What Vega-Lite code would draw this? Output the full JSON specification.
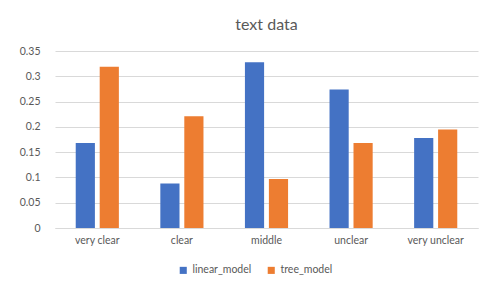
{
  "$schema": "https://vega.github.io/schema/vega-lite/v6.json",
  "width": 423,
  "height": 177,
  "autosize": "none",
  "padding": {"left": 55, "top": 51, "right": 14, "bottom": 63},
  "background": "white",
  "title": {"text": "text data", "fontSize": 16, "font": "Lato", "fontWeight": "normal", "color": "#595959", "offset": 13, "anchor": "middle"},
  "data": {"values": [
    {"category": "very clear", "model": "linear_model", "value": 0.168},
    {"category": "very clear", "model": "tree_model", "value": 0.319},
    {"category": "clear", "model": "linear_model", "value": 0.088},
    {"category": "clear", "model": "tree_model", "value": 0.221},
    {"category": "middle", "model": "linear_model", "value": 0.328},
    {"category": "middle", "model": "tree_model", "value": 0.097},
    {"category": "unclear", "model": "linear_model", "value": 0.274},
    {"category": "unclear", "model": "tree_model", "value": 0.168},
    {"category": "very unclear", "model": "linear_model", "value": 0.178},
    {"category": "very unclear", "model": "tree_model", "value": 0.195}
  ]},
  "mark": {"type": "bar"},
  "encoding": {
    "x": {"field": "category", "type": "nominal", "sort": null,
      "scale": {"paddingInner": 0.49, "paddingOuter": 0.245},
      "axis": {"title": null, "labelAngle": 0, "ticks": false, "domainColor": "#d9d9d9", "labelColor": "#595959", "labelFontSize": 10.5, "labelFont": "Lato", "labelPadding": 7}},
    "xOffset": {"field": "model", "type": "nominal", "scale": {"paddingInner": 0.2, "paddingOuter": 0}},
    "y": {"field": "value", "type": "quantitative",
      "scale": {"domain": [0, 0.35], "nice": false},
      "axis": {"title": null, "values": [0, 0.05, 0.1, 0.15, 0.2, 0.25, 0.3, 0.35], "format": "~g", "domain": false, "ticks": false, "gridColor": "#d9d9d9", "labelColor": "#595959", "labelFontSize": 10.5, "labelFont": "Lato", "labelPadding": 15}},
    "color": {"field": "model", "type": "nominal",
      "scale": {"domain": ["linear_model", "tree_model"], "range": ["#4472C4", "#ED7D31"]},
      "legend": {"title": null, "orient": "none", "legendX": 123, "legendY": 214, "direction": "horizontal", "symbolType": "square", "symbolSize": 50, "labelFontSize": 10.5, "labelFont": "Lato", "labelColor": "#595959", "columnPadding": 14}}
  },
  "config": {"view": {"stroke": null}}
}
